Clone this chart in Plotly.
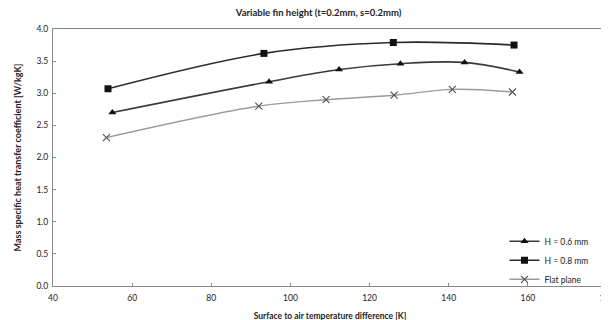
import plotly.graph_objects as go

x_h06 = [55.0, 94.6, 112.3, 127.8, 144.0, 157.9]
y_h06 = [2.70, 3.18, 3.37, 3.46, 3.48, 3.33]
x_h08 = [53.9, 93.3, 126.0, 156.5]
y_h08 = [3.07, 3.62, 3.79, 3.75]
x_flat = [53.5, 92.0, 109.0, 126.2, 140.9, 156.1]
y_flat = [2.31, 2.80, 2.90, 2.97, 3.06, 3.02]

font_family = "Lato, 'Open Sans', sans-serif"

fig = go.Figure()
fig.add_trace(go.Scatter(x=x_h06, y=y_h06, name="H = 0.6 mm", mode="lines+markers",
                         line=dict(color="#3a3a3a", width=1.6, shape="spline"),
                         marker=dict(symbol="triangle-up", size=7, color="#111111")))
fig.add_trace(go.Scatter(x=x_h08, y=y_h08, name="H = 0.8 mm", mode="lines+markers",
                         line=dict(color="#2a2a2a", width=1.6, shape="spline"),
                         marker=dict(symbol="square", size=7, color="#111111")))
fig.add_trace(go.Scatter(x=x_flat, y=y_flat, name="Flat plane", mode="lines+markers",
                         line=dict(color="#9a9a9a", width=1.4, shape="spline"),
                         marker=dict(symbol="x-thin", size=7, color="#555555",
                                     line=dict(width=1.2, color="#555555"))))

fig.update_layout(
    width=609, height=320,
    margin=dict(l=45, r=3, t=21, b=42),
    paper_bgcolor="white", plot_bgcolor="white",
    font=dict(family=font_family, size=8, color="#222222"),
    title=dict(text="<b>Variable fin height (t=0.2mm, s=0.2mm)</b>", x=0.51, xanchor="center",
               y=0.985, yanchor="middle", font=dict(size=9.5, color="#222222")),
    showlegend=True,
    legend=dict(x=0.815, y=0.1, xanchor="left", yanchor="middle",
                bgcolor="rgba(0,0,0,0)", font=dict(size=8.5),
                itemwidth=30, tracegroupgap=0),
)
fig.update_xaxes(range=[40, 180], dtick=20, tick0=40, showgrid=False, zeroline=False,
                 showline=True, linecolor="#8a8a8a", linewidth=1, mirror=True,
                 ticks="inside", ticklen=3, tickcolor="#8a8a8a",
                 ticklabeloverflow="allow", ticklabelstandoff=4,
                 title=dict(text="<b>Surface to air temperature difference [K]</b>",
                            font=dict(size=8.5), standoff=10),
                 tickfont=dict(size=8.5))
fig.update_yaxes(range=[0, 4], dtick=0.5, tickformat=".1f", showgrid=False, zeroline=False,
                 showline=True, linecolor="#8a8a8a", linewidth=1, mirror=True,
                 ticks="inside", ticklen=3, tickcolor="#8a8a8a", ticklabelstandoff=2,
                 title=dict(text="<b>Mass specific heat transfer coefficient [W/kgK]</b>",
                            font=dict(size=9), standoff=13),
                 tickfont=dict(size=8.5))

fig.write_html("out.html")
